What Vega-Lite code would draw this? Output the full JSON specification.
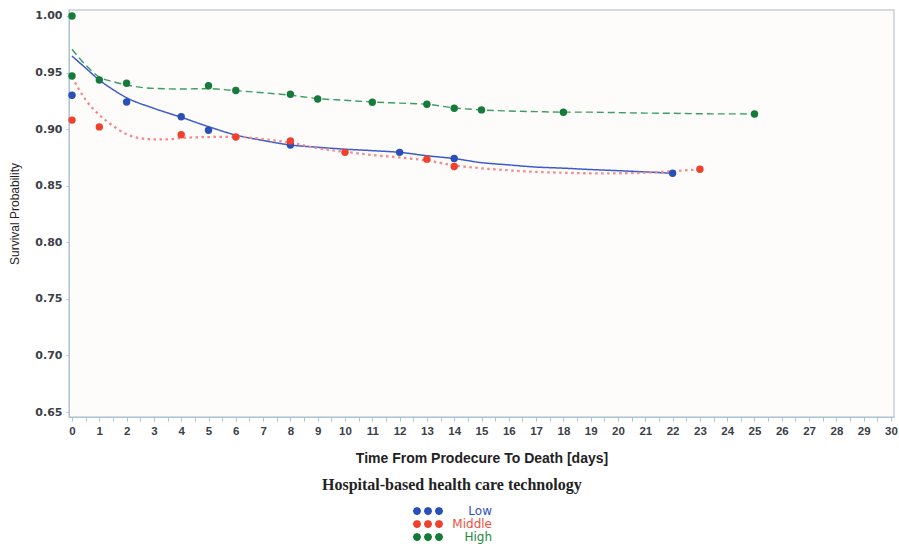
{
  "$schema": "https://vega.github.io/schema/vega-lite/v6.json",
  "width": 825,
  "height": 407,
  "autosize": {"type": "none"},
  "padding": {"left": 69, "top": 10, "right": 5, "bottom": 127},
  "background": "#ffffff",
  "config": {
    "view": {"stroke": "#c9d0d6", "strokeWidth": 1.5, "fill": "#fdfcfa"},
    "axis": {
      "grid": false,
      "domainColor": "#a9c5d8",
      "tickColor": "#a9c5d8",
      "labelColor": "#3a4048",
      "titleColor": "#222222"
    }
  },
  "datasets": {
    "curves": [
      {"group": "Low", "day": 0, "surv": 0.9646},
      {"group": "Low", "day": 0.5, "surv": 0.954},
      {"group": "Low", "day": 1, "surv": 0.9434},
      {"group": "Low", "day": 1.5, "surv": 0.935},
      {"group": "Low", "day": 2, "surv": 0.9278},
      {"group": "Low", "day": 3, "surv": 0.9184},
      {"group": "Low", "day": 4, "surv": 0.9105},
      {"group": "Low", "day": 5, "surv": 0.9022},
      {"group": "Low", "day": 6, "surv": 0.8948},
      {"group": "Low", "day": 7, "surv": 0.8900},
      {"group": "Low", "day": 8, "surv": 0.8860},
      {"group": "Low", "day": 9, "surv": 0.8840},
      {"group": "Low", "day": 10, "surv": 0.8823},
      {"group": "Low", "day": 11, "surv": 0.8810},
      {"group": "Low", "day": 12, "surv": 0.8795},
      {"group": "Low", "day": 13, "surv": 0.8765},
      {"group": "Low", "day": 14, "surv": 0.8740},
      {"group": "Low", "day": 15, "surv": 0.8704},
      {"group": "Low", "day": 16, "surv": 0.8684},
      {"group": "Low", "day": 17, "surv": 0.8665},
      {"group": "Low", "day": 18, "surv": 0.8655},
      {"group": "Low", "day": 19, "surv": 0.8643},
      {"group": "Low", "day": 20, "surv": 0.8633},
      {"group": "Low", "day": 21, "surv": 0.8622},
      {"group": "Low", "day": 22, "surv": 0.8610},
      {"group": "Middle", "day": 0, "surv": 0.9460},
      {"group": "Middle", "day": 0.5, "surv": 0.9260},
      {"group": "Middle", "day": 1, "surv": 0.9125},
      {"group": "Middle", "day": 1.5, "surv": 0.9030},
      {"group": "Middle", "day": 2, "surv": 0.8955},
      {"group": "Middle", "day": 2.5, "surv": 0.8920},
      {"group": "Middle", "day": 3, "surv": 0.8910},
      {"group": "Middle", "day": 3.5, "surv": 0.8910},
      {"group": "Middle", "day": 4, "surv": 0.8922},
      {"group": "Middle", "day": 5, "surv": 0.8930},
      {"group": "Middle", "day": 6, "surv": 0.8933},
      {"group": "Middle", "day": 7, "surv": 0.8912},
      {"group": "Middle", "day": 8, "surv": 0.8880},
      {"group": "Middle", "day": 9, "surv": 0.8831},
      {"group": "Middle", "day": 10, "surv": 0.8800},
      {"group": "Middle", "day": 11, "surv": 0.8771},
      {"group": "Middle", "day": 12, "surv": 0.8750},
      {"group": "Middle", "day": 13, "surv": 0.8722},
      {"group": "Middle", "day": 14, "surv": 0.8680},
      {"group": "Middle", "day": 15, "surv": 0.8654},
      {"group": "Middle", "day": 16, "surv": 0.8636},
      {"group": "Middle", "day": 17, "surv": 0.8622},
      {"group": "Middle", "day": 18, "surv": 0.8615},
      {"group": "Middle", "day": 19, "surv": 0.8610},
      {"group": "Middle", "day": 20, "surv": 0.8610},
      {"group": "Middle", "day": 21, "surv": 0.8615},
      {"group": "Middle", "day": 22, "surv": 0.8628},
      {"group": "Middle", "day": 23, "surv": 0.8645},
      {"group": "High", "day": 0, "surv": 0.9706},
      {"group": "High", "day": 0.5, "surv": 0.9567},
      {"group": "High", "day": 1, "surv": 0.9460},
      {"group": "High", "day": 1.5, "surv": 0.9420},
      {"group": "High", "day": 2, "surv": 0.9390},
      {"group": "High", "day": 3, "surv": 0.9360},
      {"group": "High", "day": 4, "surv": 0.9355},
      {"group": "High", "day": 5, "surv": 0.9358},
      {"group": "High", "day": 6, "surv": 0.9340},
      {"group": "High", "day": 7, "surv": 0.9322},
      {"group": "High", "day": 8, "surv": 0.9300},
      {"group": "High", "day": 9, "surv": 0.9270},
      {"group": "High", "day": 10, "surv": 0.9255},
      {"group": "High", "day": 11, "surv": 0.9240},
      {"group": "High", "day": 12, "surv": 0.9230},
      {"group": "High", "day": 13, "surv": 0.9220},
      {"group": "High", "day": 14, "surv": 0.9188},
      {"group": "High", "day": 15, "surv": 0.9170},
      {"group": "High", "day": 16, "surv": 0.9160},
      {"group": "High", "day": 17, "surv": 0.9155},
      {"group": "High", "day": 18, "surv": 0.9150},
      {"group": "High", "day": 19, "surv": 0.9150},
      {"group": "High", "day": 20, "surv": 0.9146},
      {"group": "High", "day": 21, "surv": 0.9142},
      {"group": "High", "day": 22, "surv": 0.9140},
      {"group": "High", "day": 23, "surv": 0.9136},
      {"group": "High", "day": 24, "surv": 0.9135},
      {"group": "High", "day": 25, "surv": 0.9134}
    ],
    "points": [
      {"group": "Low", "day": 0, "surv": 0.930},
      {"group": "Low", "day": 2, "surv": 0.924},
      {"group": "Low", "day": 4, "surv": 0.911},
      {"group": "Low", "day": 5, "surv": 0.899},
      {"group": "Low", "day": 8, "surv": 0.886},
      {"group": "Low", "day": 12, "surv": 0.8795},
      {"group": "Low", "day": 14, "surv": 0.874},
      {"group": "Low", "day": 22, "surv": 0.861},
      {"group": "Middle", "day": 0, "surv": 0.908},
      {"group": "Middle", "day": 1, "surv": 0.902},
      {"group": "Middle", "day": 4, "surv": 0.895},
      {"group": "Middle", "day": 6, "surv": 0.893},
      {"group": "Middle", "day": 8, "surv": 0.8895},
      {"group": "Middle", "day": 10, "surv": 0.8795},
      {"group": "Middle", "day": 13, "surv": 0.8735},
      {"group": "Middle", "day": 14, "surv": 0.867},
      {"group": "Middle", "day": 23, "surv": 0.8645},
      {"group": "High", "day": 0, "surv": 1.000},
      {"group": "High", "day": 0, "surv": 0.947},
      {"group": "High", "day": 1, "surv": 0.9434},
      {"group": "High", "day": 2, "surv": 0.9405},
      {"group": "High", "day": 5, "surv": 0.9384},
      {"group": "High", "day": 6, "surv": 0.9341},
      {"group": "High", "day": 8, "surv": 0.9308},
      {"group": "High", "day": 9, "surv": 0.9266},
      {"group": "High", "day": 11, "surv": 0.9237},
      {"group": "High", "day": 13, "surv": 0.922},
      {"group": "High", "day": 14, "surv": 0.9184},
      {"group": "High", "day": 15, "surv": 0.917},
      {"group": "High", "day": 18, "surv": 0.915},
      {"group": "High", "day": 25, "surv": 0.9134}
    ]
  },
  "encoding": {
    "x": {
      "field": "day",
      "type": "quantitative",
      "scale": {"domain": [-0.11, 30.11], "nice": false, "zero": false},
      "axis": {
        "title": "Time From Prodecure To Death [days]",
        "values": [0,0.5,1,1.5,2,2.5,3,3.5,4,4.5,5,5.5,6,6.5,7,7.5,8,8.5,9,9.5,10,10.5,11,11.5,12,12.5,13,13.5,14,14.5,15,15.5,16,16.5,17,17.5,18,18.5,19,19.5,20,20.5,21,21.5,22,22.5,23,23.5,24,24.5,25,25.5,26,26.5,27,27.5,28,28.5,29,29.5,30],
        "labelExpr": "datum.value % 1 === 0 ? format(datum.value, 'd') : ''",
        "labelOverlap": false,
        "labelFlush": false,
        "tickSize": 4,
        "labelPadding": 4,
        "labelFont": "Liberation Sans",
        "labelFontWeight": "bold",
        "labelFontSize": 11.5,
        "titleFont": "Liberation Sans",
        "titleFontWeight": "bold",
        "titleFontSize": 14,
        "titlePadding": 15
      }
    },
    "y": {
      "field": "surv",
      "type": "quantitative",
      "scale": {"domain": [0.6456, 1.0053], "nice": false, "zero": false},
      "axis": {
        "title": "Survival Probability",
        "values": [0.65, 0.70, 0.75, 0.80, 0.85, 0.90, 0.95, 1.00],
        "format": ".2f",
        "tickSize": 3,
        "labelPadding": 4,
        "labelFont": "DejaVu Sans",
        "labelFontWeight": "bold",
        "labelFontSize": 11,
        "titleFont": "Liberation Sans",
        "titleFontWeight": "normal",
        "titleFontSize": 12,
        "titlePadding": 13
      }
    }
  },
  "layer": [
    {
      "data": {"name": "curves"},
      "mark": {"type": "line", "strokeCap": "butt", "interpolate": "monotone"},
      "encoding": {
        "stroke": {
          "field": "group",
          "type": "nominal",
          "scale": {"domain": ["High", "Middle", "Low"], "range": ["#3a9e62", "#f28a8a", "#3a5bd0"]},
          "legend": null
        },
        "strokeDash": {
          "field": "group",
          "type": "nominal",
          "scale": {"domain": ["High", "Middle", "Low"], "range": [[7, 4], [2.5, 3.5], [1, 0]]},
          "legend": null
        },
        "strokeWidth": {
          "field": "group",
          "type": "nominal",
          "scale": {"type": "ordinal", "domain": ["High", "Middle", "Low"], "range": [1.4, 2.3, 1.5]},
          "legend": null
        }
      }
    },
    {
      "data": {"name": "points"},
      "mark": {"type": "point", "filled": true, "opacity": 1, "size": 55},
      "encoding": {
        "fill": {
          "field": "group",
          "type": "nominal",
          "scale": {"domain": ["Low", "Middle", "High"], "range": ["#2b4fb8", "#f0402e", "#157a3a"]},
          "legend": {
            "title": "Hospital-based health care technology",
            "orient": "none",
            "legendX": 253,
            "legendY": 467,
            "direction": "vertical",
            "padding": 0,
            "titleFont": "Liberation Serif",
            "titleFontSize": 16,
            "titleFontWeight": "bold",
            "titleColor": "#222222",
            "titlePadding": 12,
            "titleLimit": 600,
            "symbolType": "M -1.25,0 L -1.47,0.53 L -2,0.75 L -2.53,0.53 L -2.75,0 L -2.53,-0.53 L -2,-0.75 L -1.47,-0.53 Z M 0.75,0 L 0.53,0.53 L 0,0.75 L -0.53,0.53 L -0.75,0 L -0.53,-0.53 L 0,-0.75 L 0.53,-0.53 Z M 2.75,0 L 2.53,0.53 L 2,0.75 L 1.47,0.53 L 1.25,0 L 1.47,-0.53 L 2,-0.75 L 2.53,-0.53 Z",
            "symbolSize": 121,
            "symbolStrokeWidth": 0,
            "symbolOffset": 100,
            "labelOffset": 58,
            "labelAlign": "right",
            "labelFont": "DejaVu Sans",
            "labelFontSize": 12,
            "labelColor": {"expr": "datum.value === 'Low' ? '#3050c0' : datum.value === 'Middle' ? '#f0503e' : '#1a8a40'"},
            "rowPadding": 1
          }
        }
      }
    }
  ]
}
